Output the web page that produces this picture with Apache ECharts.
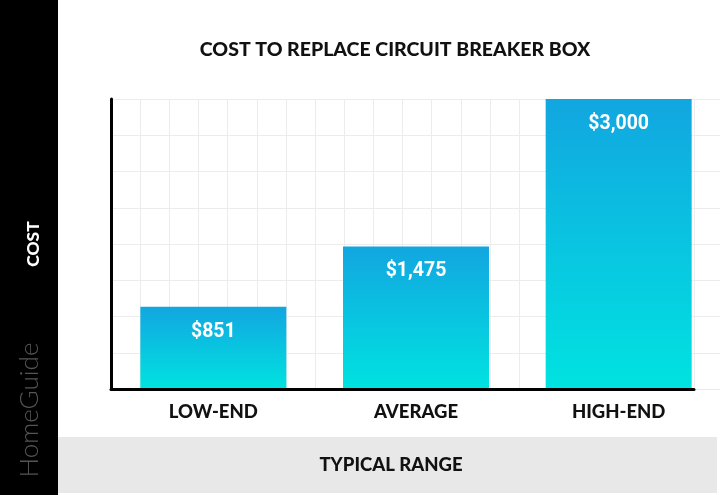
<!DOCTYPE html>
<html>
<head>
<meta charset="utf-8">
<script src="https://cdn.jsdelivr.net/npm/echarts@6/dist/echarts.min.js"></script>
<style>
html,body{margin:0;padding:0;background:#fff;}
#chart{width:720px;height:495px;}
</style>
</head>
<body>
<div id="chart"></div>
<script>
const categories = ['LOW-END', 'AVERAGE', 'HIGH-END'];
const costs = [851, 1475, 3000];
const costLabels = ['$851', '$1,475', '$3,000'];
const yMax = 3000;
const yInterval = 375;

const chart = echarts.init(document.getElementById('chart'));
const FONT = 'Lato, "DejaVu Sans", sans-serif';

chart.setOption({
  backgroundColor: '#ffffff',
  animation: false,
  title: {
    text: 'COST TO REPLACE CIRCUIT BREAKER BOX',
    left: 390, top: 35, textAlign: 'center',
    textStyle: { fontFamily: FONT, fontWeight: 900, fontSize: 19.5, color: '#111' }
  },
  graphic: [
    { type: 'rect', z: -10, shape: { x: 0, y: 0, width: 58, height: 495 }, style: { fill: '#000' } },
    { type: 'rect', z: -10, shape: { x: 58, y: 437, width: 659, height: 56 }, style: { fill: '#e8e8e8' } },
    { type: 'text', z: 5, x: 30, y: 410, rotation: Math.PI / 2,
      style: { text: 'HomeGuide', fill: '#555555', font: '300 26px ' + FONT, align: 'center', verticalAlign: 'middle' } }
  ],
  grid: [
    { left: 112, right: -5, top: 99, bottom: 106 },
    { left: 111, right: 26, top: 99, bottom: 106 },
    { left: 111, right: 26, top: 99, bottom: 106 }
  ],
  xAxis: [
    { type: 'category', gridIndex: 0, data: categories,
      axisLine: { show: false }, axisTick: { show: false },
      axisLabel: { margin: 14, fontFamily: FONT, fontWeight: 900, fontSize: 18.5, color: '#111' },
      name: 'TYPICAL RANGE', nameLocation: 'middle', nameGap: 67,
      nameTextStyle: { fontFamily: FONT, fontWeight: 900, fontSize: 18.5, color: '#111', padding: [0, 0, 0, -50] }
    },
    { type: 'value', gridIndex: 1, min: 0, max: 20, interval: 1,
      axisLine: { show: false }, axisTick: { show: false }, axisLabel: { show: false },
      splitLine: { show: true, lineStyle: { color: '#ececec', width: 1 } } },
    { type: 'value', gridIndex: 2, min: 0, max: 20, interval: 1, z: 5,
      axisLine: { show: true, lineStyle: { color: '#000', width: 3 } },
      axisTick: { show: false }, axisLabel: { show: false }, splitLine: { show: false } }
  ],
  yAxis: [
    { type: 'value', gridIndex: 0, min: 0, max: yMax, interval: yInterval,
      axisLine: { show: false }, axisTick: { show: false }, axisLabel: { show: false },
      splitLine: { show: true, lineStyle: { color: '#ececec', width: 1 } },
      name: 'COST', nameLocation: 'middle', nameGap: 70,
      nameTextStyle: { fontFamily: FONT, fontWeight: 900, fontSize: 17.5, color: '#fff' }
    },
    { type: 'value', gridIndex: 1, min: 0, max: yMax, interval: yInterval, show: false },
    { type: 'value', gridIndex: 2, min: 0, max: yMax, interval: yInterval, z: 5,
      axisLine: { show: true, lineStyle: { color: '#000', width: 3 } },
      axisTick: { show: false }, axisLabel: { show: false }, splitLine: { show: false } }
  ],
  series: [{
    type: 'bar', xAxisIndex: 0, yAxisIndex: 0,
    data: costs, barWidth: 146,
    itemStyle: {
      color: new echarts.graphic.LinearGradient(0, 0, 0, 1, [
        { offset: 0, color: '#12a6e0' },
        { offset: 1, color: '#00e3e0' }
      ])
    },
    label: {
      show: true, position: 'insideTop', distance: 15,
      formatter: p => costLabels[p.dataIndex],
      fontFamily: 'Roboto, sans-serif', fontWeight: 'bold', fontSize: 19.5, color: '#fff'
    }
  }]
});
</script>
</body>
</html>
